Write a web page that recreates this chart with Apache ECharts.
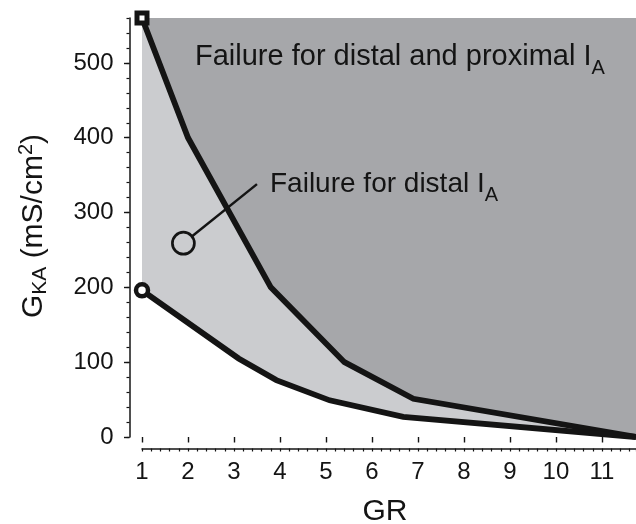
<!DOCTYPE html>
<html>
<head>
<meta charset="utf-8">
<script src="https://cdn.jsdelivr.net/npm/echarts@6/dist/echarts.min.js"></script>
<style>
  html, body { margin: 0; padding: 0; background: #fff; }
  #chart { width: 636px; height: 524px; }
</style>
</head>
<body>
<div id="chart"></div>
<script>
// Boundary of the distal-failure region (upper curve)
const upperX = [1, 2, 3.8, 5.4, 6.9, 11.74];
const upperY = [560, 400, 200, 100, 51, 0];
// Boundary of the proximal-failure region (lower curve)
const lowerX = [1, 3.1, 3.92, 5.08, 6.68, 11.74];
const lowerY = [196, 105, 76, 49, 27, 0];
// Callout pointing into the light region
const calloutCircle = [1.9, 259];
const calloutEnd = [3.5, 338];
// Axis ticks
const xMajorTicks = [1, 2, 3, 4, 5, 6, 7, 8, 9, 10, 11];
const yMajorTicks = [0, 100, 200, 300, 400, 500];

const FONT = '"Liberation Sans", Arial, Helvetica, sans-serif';
const INK = '#141414';
const DARK = '#a6a7aa';
const LIGHT = '#cbcccf';

function pairs(xs, ys) { return xs.map((x, i) => [x, ys[i]]); }

function withFirstSymbol(xs, ys, symbol, size, border) {
  return pairs(xs, ys).map((p, i) => i === 0
    ? { value: p, symbol: symbol, symbolSize: size,
        itemStyle: { color: '#fff', borderColor: INK, borderWidth: border, opacity: 1 } }
    : { value: p, symbol: 'none' });
}

const chart = echarts.init(document.getElementById('chart'), null, { renderer: 'canvas' });

const axisText = { fontFamily: FONT, fontSize: 24, color: INK };

chart.setOption({
  animation: false,
  grid: {
    left: 142, right: 0, top: 18, bottom: 87,
    show: true, backgroundColor: DARK, borderWidth: 0
  },
  xAxis: [{
    type: 'value', min: 1, max: 11.74, interval: 0.2,
    offset: 11.5,
    splitLine: { show: false },
    axisLine: { show: true, onZero: false, lineStyle: { color: INK, width: 1.5 } },
    axisTick: { show: true, length: 3, lineStyle: { color: INK, width: 1.2 } },
    axisLabel: { show: false }
  }, {
    type: 'value', min: 1, max: 11.74, position: 'bottom',
    offset: 11.5,
    splitLine: { show: false },
    axisLine: { show: false },
    axisTick: { show: true, length: 5.5, customValues: xMajorTicks, lineStyle: { color: INK, width: 1.4 } },
    axisLabel: Object.assign({ show: true, margin: 12, customValues: xMajorTicks }, axisText)
  }],
  yAxis: [{
    type: 'value', min: 0, max: 560, interval: 20,
    offset: 12.5,
    splitLine: { show: false },
    axisLine: { show: true, onZero: false, lineStyle: { color: INK, width: 1.5 } },
    axisTick: { show: true, length: 3, lineStyle: { color: INK, width: 1.2 } },
    axisLabel: { show: false }
  }, {
    type: 'value', min: 0, max: 560, position: 'left',
    offset: 12.5,
    splitLine: { show: false },
    axisLine: { show: false },
    axisTick: { show: true, length: 5.5, customValues: yMajorTicks, lineStyle: { color: INK, width: 1.4 } },
    axisLabel: Object.assign({ show: true, margin: 16, customValues: yMajorTicks }, axisText)
  }],
  series: [
    { // light band under the upper boundary
      type: 'line', xAxisIndex: 0, yAxisIndex: 0, z: 1,
      data: pairs(upperX, upperY), symbol: 'none',
      lineStyle: { width: 0 }, areaStyle: { color: LIGHT, opacity: 1 }
    },
    { // white region under the lower boundary
      type: 'line', xAxisIndex: 0, yAxisIndex: 0, z: 2,
      data: pairs(lowerX, lowerY), symbol: 'none',
      lineStyle: { width: 0 }, areaStyle: { color: '#fff', opacity: 1 }
    },
    { // upper boundary
      type: 'line', xAxisIndex: 0, yAxisIndex: 0, z: 3, clip: false,
      data: withFirstSymbol(upperX, upperY, 'rect', 10, 5),
      showSymbol: true, showAllSymbol: true,
      lineStyle: { color: INK, width: 5.8, join: 'miter' }
    },
    { // lower boundary
      type: 'line', xAxisIndex: 0, yAxisIndex: 0, z: 3, clip: false,
      data: withFirstSymbol(lowerX, lowerY, 'circle', 12, 4.5),
      showSymbol: true, showAllSymbol: true,
      lineStyle: { color: INK, width: 5.8, join: 'miter' }
    },
    { // callout leader
      type: 'line', xAxisIndex: 0, yAxisIndex: 0, z: 4, clip: false,
      data: [calloutCircle, calloutEnd], symbol: 'none',
      lineStyle: { color: INK, width: 2.5 }
    },
    { // callout ring
      type: 'scatter', xAxisIndex: 0, yAxisIndex: 0, z: 5, clip: false,
      data: [calloutCircle], symbol: 'circle', symbolSize: 22,
      itemStyle: { color: LIGHT, borderColor: INK, borderWidth: 2.7, opacity: 1 }
    }
  ],
  graphic: [
    {
      type: 'text', x: 195, y: 57, z: 10,
      style: {
        text: '{m|Failure for distal and proximal I}{s|A}',
        verticalAlign: 'middle', align: 'left',
        rich: {
          m: { fontFamily: FONT, fontSize: 29, fill: INK },
          s: { fontFamily: FONT, fontSize: 20, fill: INK, padding: [22, 0, 0, 0] }
        }
      }
    },
    {
      type: 'text', x: 270, y: 184, z: 10,
      style: {
        text: '{m|Failure for distal I}{s|A}',
        verticalAlign: 'middle', align: 'left',
        rich: {
          m: { fontFamily: FONT, fontSize: 28, fill: INK },
          s: { fontFamily: FONT, fontSize: 20, fill: INK, padding: [22, 0, 0, 0] }
        }
      }
    },
    {
      type: 'text', x: 385, y: 512, z: 10,
      style: {
        text: 'GR', fontFamily: FONT, fontSize: 30, fill: INK,
        align: 'center', verticalAlign: 'middle'
      }
    },
    {
      type: 'text', x: 34, y: 226, z: 10, rotation: Math.PI / 2,
      style: {
        text: '{g|G}{k|KA}{g| (mS/cm}{p|2}{g|)}',
        align: 'center', verticalAlign: 'middle',
        rich: {
          g: { fontFamily: FONT, fontSize: 30, fill: INK },
          k: { fontFamily: FONT, fontSize: 21, fill: INK, padding: [12, 0, 0, 0] },
          p: { fontFamily: FONT, fontSize: 20, fill: INK, padding: [0, 0, 16, 0] }
        }
      }
    }
  ]
});
</script>
</body>
</html>
